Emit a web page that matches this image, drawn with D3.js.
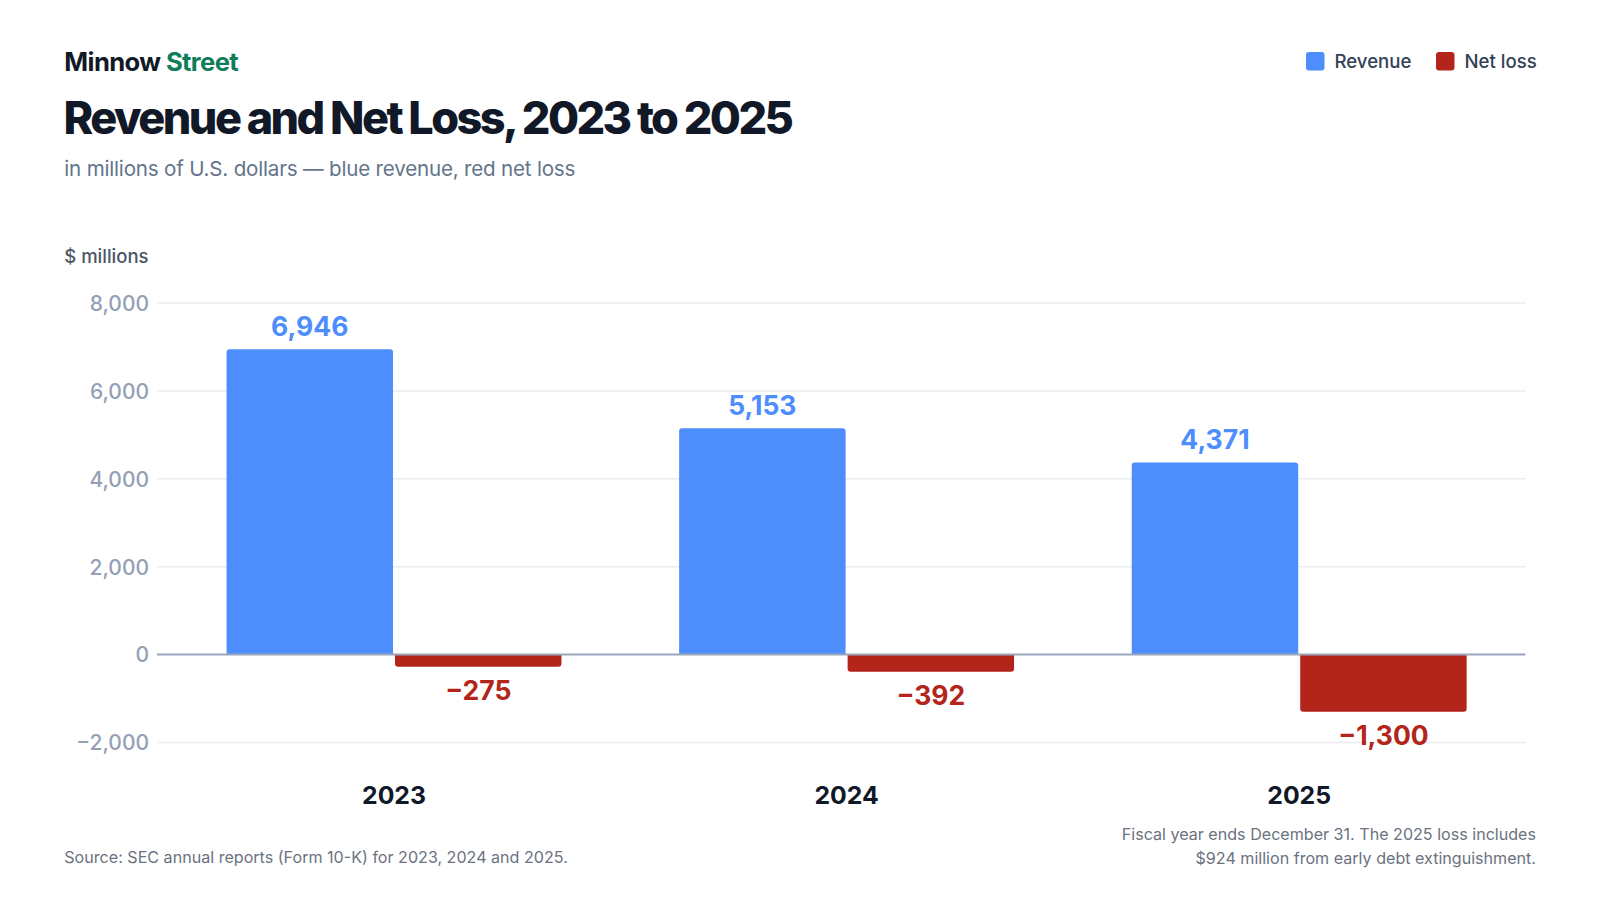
<!DOCTYPE html>
<html>
<head>
<meta charset="utf-8">
<script src="https://cdn.jsdelivr.net/npm/d3@7/dist/d3.min.js"></script>
<style>
  html, body { margin: 0; padding: 0; background: #ffffff; }
  svg { display: block; font-family: Inter, "Noto Sans", sans-serif; }
</style>
</head>
<body>
<svg id="chart" width="1600" height="900"></svg>
<script>
// ---- data ----
const years = ["2023", "2024", "2025"];
const seriesNames = ["Revenue", "Net loss"];
const revenue = [6946, 5153, 4371];
const netLoss = [-275, -392, -1300];
const yTicks = [-2000, 0, 2000, 4000, 6000, 8000];
const seriesColors = ["#4d8efc", "#b3241a"];

const svg = d3.select("#chart");

const y = d3.scaleLinear().domain([-2000, 8000]).range([742.5, 303]);
const x0 = d3.scaleBand().domain(years).range([167.7, 1525.5]).paddingInner(0.26).paddingOuter(0.13);
const x1 = d3.scaleBand().domain(seriesNames).range([0, x0.bandwidth()]).paddingInner(0.012);

// ---- header ----
const brand = svg.append("text").attr("x", 64.3).attr("y", 71.4)
  .attr("font-size", 25.6).attr("font-weight", 700).attr("letter-spacing", -0.6).attr("fill", "#111827");
brand.append("tspan").text("Minnow ");
brand.append("tspan").attr("fill", "#0f7d5a").text("Street");

svg.append("text").attr("x", 63.5).attr("y", 133.7)
  .attr("font-size", 45).attr("font-weight", 800).attr("letter-spacing", -2.55).attr("fill", "#111827")
  .text("Revenue and Net Loss, 2023 to 2025");

svg.append("text").attr("x", 64.3).attr("y", 175.5)
  .attr("font-size", 20.6).attr("fill", "#64748b").attr("letter-spacing", -0.2)
  .text("in millions of U.S. dollars \u2014 blue revenue, red net loss");

svg.append("text").attr("x", 64.3).attr("y", 263)
  .attr("font-size", 18.5).attr("font-weight", 500).attr("fill", "#4b5563")
  .text("$ millions");

// ---- legend ----
const legendItems = [
  { name: seriesNames[0], color: seriesColors[0], x: 1306 },
  { name: seriesNames[1], color: seriesColors[1], x: 1436 }
];
const lg = svg.append("g");
legendItems.forEach(d => {
  lg.append("rect").attr("x", d.x).attr("y", 52).attr("width", 18.5).attr("height", 18.5)
    .attr("rx", 3).attr("fill", d.color);
  lg.append("text").attr("x", d.x + 28.5).attr("y", 68.4)
    .attr("font-size", 18.6).attr("font-weight", 500).attr("fill", "#334155").text(d.name);
});

// ---- grid & axis ----
const yAxis = d3.axisLeft(y).tickValues(yTicks).tickSize(0).tickPadding(0)
  .tickFormat(d => d3.format(",")(d).replace("-", "\u2212"));
const gAxis = svg.append("g").attr("transform", "translate(149,0)").call(yAxis);
gAxis.select(".domain").remove();
gAxis.selectAll("text").attr("font-size", 21).attr("font-weight", 500).attr("fill", "#94a0b4")
  .attr("font-family", "Inter, sans-serif").attr("dy", "0.35em");

svg.append("g").selectAll("line").data(yTicks.filter(t => t !== 0)).join("line")
  .attr("x1", 157).attr("x2", 1525.5)
  .attr("y1", d => y(d)).attr("y2", d => y(d))
  .attr("stroke", "#e9ecf1").attr("stroke-width", 1.5);

// ---- bars ----
const rows = years.map((yr, i) => ({ year: yr, values: [revenue[i], netLoss[i]] }));
function barPath(x, w, v) {
  const r = 3;
  const y0 = y(0), y1 = y(v);
  if (v >= 0) {
    return `M${x},${y0}V${y1 + r}Q${x},${y1} ${x + r},${y1}H${x + w - r}Q${x + w},${y1} ${x + w},${y1 + r}V${y0}Z`;
  } else {
    return `M${x},${y0}V${y1 - r}Q${x},${y1} ${x + r},${y1}H${x + w - r}Q${x + w},${y1} ${x + w},${y1 - r}V${y0}Z`;
  }
}
const groups = svg.append("g").selectAll("g").data(rows).join("g")
  .attr("transform", d => `translate(${x0(d.year)},0)`);

groups.selectAll("path").data(d => d.values.map((v, j) => ({ v, j }))).join("path")
  .attr("d", d => barPath(x1(seriesNames[d.j]), x1.bandwidth(), d.v))
  .attr("fill", d => seriesColors[d.j]);

groups.selectAll("text.val").data(d => d.values.map((v, j) => ({ v, j }))).join("text")
  .attr("class", "val")
  .attr("x", d => x1(seriesNames[d.j]) + x1.bandwidth() / 2)
  .attr("y", d => d.v >= 0 ? y(d.v) - 13.5 : y(d.v) + 33)
  .attr("text-anchor", "middle")
  .attr("font-size", 26.5).attr("font-weight", 700)
  .attr("fill", d => seriesColors[d.j])
  .text(d => d3.format(",")(d.v).replace("-", "\u2212"));

// zero line
svg.append("line").attr("x1", 157).attr("x2", 1525.5).attr("y1", y(0)).attr("y2", y(0))
  .attr("stroke", "#9aa6ba").attr("stroke-width", 2);

// category labels
svg.append("g").selectAll("text").data(years).join("text")
  .attr("x", d => x0(d) + x0.bandwidth() / 2).attr("y", 804)
  .attr("text-anchor", "middle").attr("font-size", 24.8).attr("font-weight", 700)
  .attr("fill", "#111827").text(d => d);

// ---- footer ----
svg.append("text").attr("x", 64.3).attr("y", 863)
  .attr("font-size", 16.1).attr("fill", "#6b7280")
  .text("Source: SEC annual reports (Form 10-K) for 2023, 2024 and 2025.");
const note = svg.append("text").attr("x", 1536).attr("y", 840).attr("text-anchor", "end")
  .attr("font-size", 16.1).attr("fill", "#6b7280");
note.append("tspan").attr("x", 1536).attr("dy", 0)
  .text("Fiscal year ends December 31. The 2025 loss includes");
note.append("tspan").attr("x", 1536).attr("dy", 23.5)
  .text("$924 million from early debt extinguishment.");
</script>
</body>
</html>
